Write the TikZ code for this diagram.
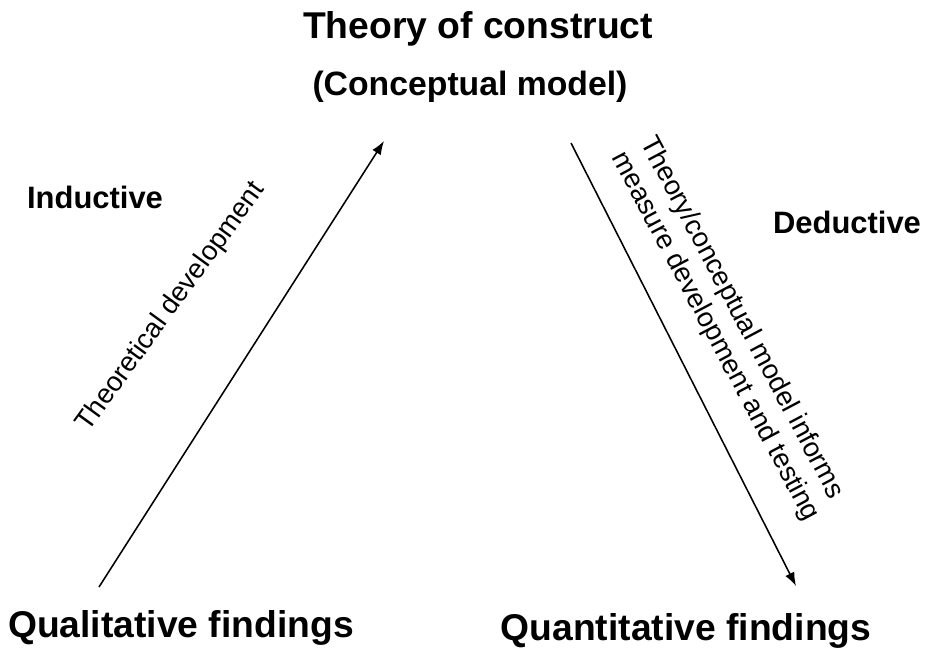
\documentclass[tikz,border=0pt]{standalone}
\usepackage{fontspec}
\setmainfont{Liberation Sans}
\usepackage{xcolor}
\usepackage{tikz}
\usetikzlibrary{arrows.meta}
\definecolor{triink}{HTML}{000000}
\tikzset{%
  tricorner/.style={%
    anchor=base,
    inner sep=0pt,
    text=triink,
    font=\fontsize{26.5}{32}\selectfont\bfseries
  },
  trimode/.style={%
    tricorner,
    font=\fontsize{22}{26}\selectfont\bfseries
  },
  triside/.style={%
    inner sep=0pt,
    text=triink,
    align=left,
    font=\fontsize{19.5}{23}\selectfont
  },
  triarrow/.style={-{Latex[length=3.4mm,width=2.5mm]},line width=1.1pt,draw=triink}
}

\begin{document}
\begin{tikzpicture}[x=0.025cm,y=-0.025cm]
    \useasboundingbox (0,0) rectangle (935,652);
    \node[tricorner] (theory) at (478,38) {Theory of construct};
    \node[tricorner,font=\fontsize{24}{29}\selectfont\bfseries] (concept) at (470,95) {(Conceptual model)};
    \node[tricorner] (qual) at (181,637) {Qualitative findings};
    \node[tricorner] (quant) at (686,640) {Quantitative findings};
    \node[trimode] (induct) at (95,208) {Inductive};
    \node[trimode] (deduct) at (847,233) {Deductive};

    \coordinate (indstart) at (99,587);
    \coordinate (indend) at (384,141);
    \coordinate (dedstart) at (571,143);
    \coordinate (dedend) at (796,586);

    \node[triside,rotate=54] (theordev) at (171,307) {Theoretical development};
    \node[triside,rotate=-62] (informs) at (729,329) {Theory/conceptual model informs\\measure development and testing};

    \draw[triarrow] (indstart) -- (indend);
    \draw[triarrow] (dedstart) -- (dedend);
  \end{tikzpicture}
\end{document}
